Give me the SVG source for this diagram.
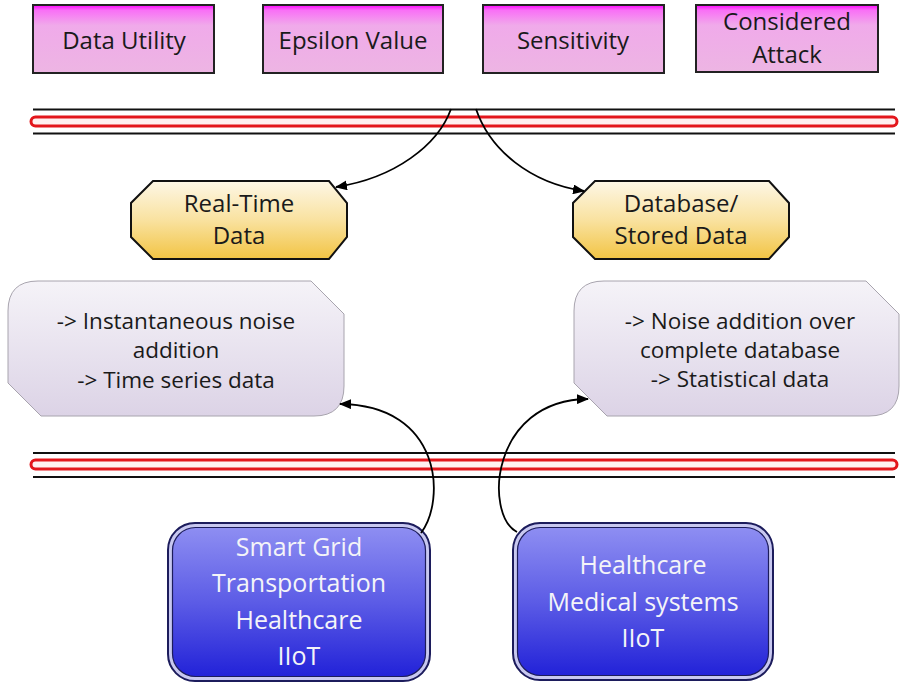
<svg xmlns="http://www.w3.org/2000/svg" width="902" height="683" viewBox="0 0 902 683">
<defs>
<linearGradient id="gPink" x1="0" y1="0" x2="0" y2="1">
<stop offset="0" stop-color="#ff00ff"/>
<stop offset="0.08" stop-color="#f970f6"/>
<stop offset="0.3" stop-color="#f0aaea"/>
<stop offset="1" stop-color="#edb5e3"/>
</linearGradient>
<linearGradient id="gYellow" x1="0" y1="0" x2="0" y2="1">
<stop offset="0" stop-color="#fdf7e6"/>
<stop offset="0.5" stop-color="#f9e2a0"/>
<stop offset="1" stop-color="#f2c444"/>
</linearGradient>
<linearGradient id="gGray" x1="0" y1="0" x2="0" y2="1">
<stop offset="0" stop-color="#f5f3f8"/>
<stop offset="1" stop-color="#dcd3e6"/>
</linearGradient>
<linearGradient id="gBlue" x1="0" y1="0" x2="0" y2="1">
<stop offset="0" stop-color="#8e8ef2"/>
<stop offset="0.5" stop-color="#5c5ce6"/>
<stop offset="1" stop-color="#2222d8"/>
</linearGradient>
<marker id="arr" viewBox="0 0 12 10" refX="11" refY="5" markerWidth="12" markerHeight="10" markerUnits="userSpaceOnUse" orient="auto">
<path d="M0,0 L12,5 L0,10 Z" fill="#000"/>
</marker>
<style>
.pink{fill:url(#gPink);stroke:#222;stroke-width:2}
.oct{fill:url(#gYellow);stroke:#111;stroke-width:2}
.gray{fill:url(#gGray);stroke:#a8a4ae;stroke-width:1}
.bout{fill:#c8c8f0;stroke:#1c1c5c;stroke-width:2}
.bin{fill:url(#gBlue);stroke:#1c1c5c;stroke-width:1.2}
.t{font-family:"Open Sans","Noto Sans",sans-serif;fill:#1a1a1a;text-anchor:middle}
.t24{font-size:24px}
.t22{font-size:22.5px}
.tw{font-family:"Open Sans","Noto Sans",sans-serif;fill:#f4f4f8;text-anchor:middle;font-size:25px}
.rail{stroke:#111;stroke-width:2.2}
.pill{fill:#fff0f0;stroke:#e3161c;stroke-width:3}
.conn{fill:none;stroke:#000;stroke-width:1.8}
</style>
</defs>
<rect width="902" height="683" fill="#fff"/>

<g id="rails">
<line class="rail" x1="33" y1="109.5" x2="895" y2="109.5"/>
<rect class="pill" x="31" y="117" width="866" height="9" rx="4.5"/>
<line class="rail" x1="33" y1="133.5" x2="895" y2="133.5"/>
<line class="rail" x1="33" y1="453" x2="895" y2="453"/>
<rect class="pill" x="31" y="460" width="866" height="9" rx="4.5"/>
<line class="rail" x1="33" y1="477" x2="895" y2="477"/>
</g>

<g id="n-data-utility">
<rect class="pink" x="33" y="5" width="181" height="68"/>
<text class="t t24" x="124" y="49">Data Utility</text>
</g>
<g id="n-epsilon">
<rect class="pink" x="263" y="5" width="180" height="68"/>
<text class="t t24" x="353" y="49">Epsilon Value</text>
</g>
<g id="n-sensitivity">
<rect class="pink" x="483" y="5" width="181" height="68"/>
<text class="t t24" x="573" y="49">Sensitivity</text>
</g>
<g id="n-attack">
<rect class="pink" x="696" y="5" width="182" height="67"/>
<text class="t t24" x="787" y="30">Considered</text>
<text class="t t24" x="787" y="63">Attack</text>
</g>

<g id="n-realtime">
<polygon class="oct" points="153,181 329,181 347,203 347,237 329,259 153,259 131,237 131,203"/>
<text class="t t24" x="239" y="212">Real-Time</text>
<text class="t t24" x="239" y="244">Data</text>
</g>
<g id="n-database">
<polygon class="oct" points="595,181 769,181 789,203 789,237 769,259 595,259 573,237 573,203"/>
<text class="t t24" x="681" y="212">Database/</text>
<text class="t t24" x="681" y="244">Stored Data</text>
</g>

<g id="n-realtime-desc">
<path class="gray" d="M8,311 Q8,281 38,281 L311,281 L344,314 L344,386 Q344,416 314,416 L41,416 L8,383 Z"/>
<text class="t t22" x="176" y="329">-&gt; Instantaneous noise</text>
<text class="t t22" x="176" y="358">addition</text>
<text class="t t22" x="176" y="388">-&gt; Time series data</text>
</g>
<g id="n-database-desc">
<path class="gray" d="M574,311 Q574,281 604,281 L866,281 L899,314 L899,386 Q899,416 869,416 L607,416 L574,383 Z"/>
<text class="t t22" x="740" y="329">-&gt; Noise addition over</text>
<text class="t t22" x="740" y="358">complete database</text>
<text class="t t22" x="740" y="387">-&gt; Statistical data</text>
</g>

<g id="n-apps-left">
<rect class="bout" x="168" y="523" width="262" height="158" rx="27"/>
<rect class="bin" x="172.5" y="527.5" width="253" height="149" rx="23"/>
<text class="tw" x="299" y="556">Smart Grid</text>
<text class="tw" x="299" y="592">Transportation</text>
<text class="tw" x="299" y="629">Healthcare</text>
<text class="tw" x="299" y="665">IIoT</text>
</g>
<g id="n-apps-right">
<rect class="bout" x="513" y="523" width="260" height="157" rx="27"/>
<rect class="bin" x="517.5" y="527.5" width="251" height="148" rx="23"/>
<text class="tw" x="643" y="574">Healthcare</text>
<text class="tw" x="643" y="611">Medical systems</text>
<text class="tw" x="643" y="647">IIoT</text>
</g>

<g id="connectors">
<path class="conn" d="M451,109 C438,145 395,178 336,187" marker-end="url(#arr)"/>
<path class="conn" d="M476,109 C490,150 530,183 584,191" marker-end="url(#arr)"/>
<path class="conn" d="M421,533 C446,500 442,405 340,404" marker-end="url(#arr)"/>
<path class="conn" d="M517,532 C484,515 490,400 588,399" marker-end="url(#arr)"/>
</g>
</svg>
